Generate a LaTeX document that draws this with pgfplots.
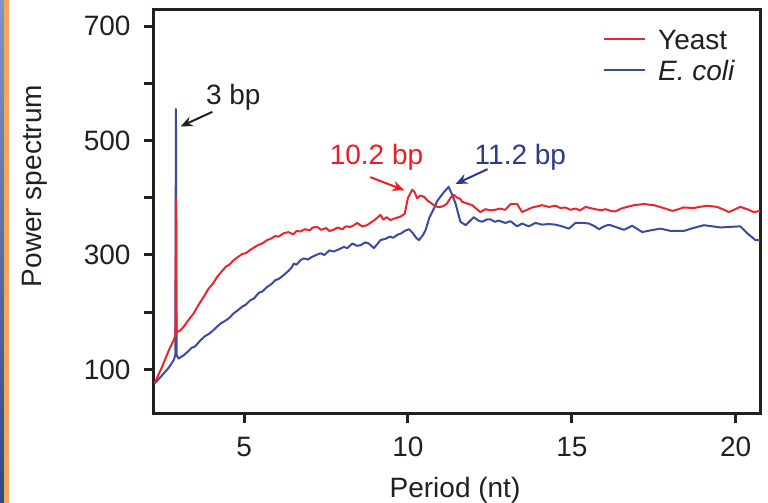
\documentclass[border=0pt]{standalone}
\usepackage{fontspec}
\setmainfont{Liberation Sans}
\usepackage{pgfplots}
\pgfplotsset{compat=1.18}
\usetikzlibrary{arrows.meta,calc}
\definecolor{yred}{HTML}{E8262D}
\definecolor{eblue}{HTML}{3C4A9E}
\definecolor{lred}{HTML}{ED1C24}
\definecolor{lblue}{HTML}{2B3990}
\definecolor{axk}{HTML}{231F20}
\definecolor{stripeA}{HTML}{7E94C4}
\definecolor{stripeB}{HTML}{2C4A8C}
\definecolor{stripeO}{HTML}{F6A65A}
\newcommand{\fs}{\fontsize{14}{16.8}\selectfont}
\begin{document}
\begin{tikzpicture}[font=\fs]
\begin{axis}[
  name=ax,
  scale only axis,
  width=303.15pt, height=201.65pt,
  xmin=2.25, xmax=20.75,
  ymin=23.4, ymax=728,
  xtick={5,10,15,20},
  ytick={100,200,300,400,500,600,700},
  yticklabels={100,,300,,500,,700},
  tick align=outside,
  xtick pos=bottom, ytick pos=left,
  major tick length=5pt,
  axis line style={line width=1.5pt, color=axk},
  every tick/.style={line width=1.5pt, color=axk},
  tick label style={font=\fs, text=axk},
  /pgf/number format/assume math mode=true,
  yticklabel style={xshift=-3.2pt},
  xticklabel style={yshift=-3.5pt},
  xlabel={Period (nt)},
  ylabel={Power spectrum},
  label style={font=\fs, text=axk},
  xlabel style={at={(axis description cs:0.4965,-0.19)}, anchor=center},
  ylabel style={at={(axis description cs:-0.1963,0.5636)}, anchor=center},
  legend style={at={(rel axis cs:0.7393,0.9665)}, anchor=north west,
    draw=none, fill=none, inner sep=0pt, row sep=0pt, font=\fs,
    nodes={text height=10pt, text depth=0pt, inner sep=2.75pt, text=axk},
    /tikz/every odd column/.append style={column sep=3.5pt}},
  legend cell align=left,
  legend image code/.code={\draw[#1] (0pt,0pt) -- (20.5pt,0pt);},
  clip=true,
]
\addplot[eblue, line width=1pt, line join=round, forget plot] coordinates {
(2.26,75) (2.5,90) (2.7,103) (2.85,116) (2.9,125) (2.92,555) (2.94,125)
(3.0,119) (3.08,122) (3.16,125) (3.3,132) (3.4,138) (3.5,140) (3.67,151)
(3.8,158) (3.95,163) (4.05,168) (4.18,175) (4.3,181) (4.4,184) (4.55,190)
(4.68,198) (4.8,203) (4.95,210) (5.05,213) (5.19,221) (5.3,224) (5.45,234)
(5.55,236) (5.7,244) (5.85,250) (5.95,256) (6.05,258) (6.21,265) (6.35,272)
(6.45,278) (6.51,285) (6.6,283) (6.72,291) (6.82,294) (6.95,292) (7.05,296)
(7.2,300) (7.33,303) (7.45,300) (7.6,308) (7.73,306) (7.9,310) (8.04,314)
(8.15,312) (8.3,320) (8.45,316) (8.55,317) (8.7,322) (8.8,320) (8.96,312)
(9.05,318) (9.16,326) (9.3,328) (9.45,332) (9.55,330) (9.67,335) (9.8,338)
(9.9,342) (10.03,345) (10.15,338) (10.25,330) (10.33,326) (10.45,334)
(10.54,344) (10.65,365) (10.79,381) (10.9,395) (10.99,402) (11.1,410)
(11.24,419) (11.35,405) (11.45,390) (11.52,375) (11.6,358) (11.76,352)
(11.9,360) (12.01,366) (12.15,360) (12.26,358) (12.4,362) (12.52,362)
(12.65,358) (12.77,360) (12.97,356) (13.13,359) (13.33,350) (13.48,355)
(13.68,350) (13.89,356) (14.09,353) (14.3,354) (14.5,353) (14.7,350)
(14.91,346) (15.11,356) (15.3,356) (15.52,355) (15.7,350) (15.83,345)
(15.95,349) (16.08,352) (16.18,352) (16.33,349) (16.59,344) (16.84,351)
(17.15,340) (17.4,343) (17.71,346) (18.01,342) (18.42,342) (18.7,347)
(19.03,352) (19.3,350) (19.54,348) (19.8,349) (20.14,350) (20.35,338)
(20.6,326) (20.75,326)
};
\addplot[yred, line width=1pt, line join=round] coordinates {
(2.26,75) (2.5,105) (2.7,133) (2.85,151) (2.905,160) (2.92,400) (2.935,165)
(3.05,168) (3.16,175) (3.3,186) (3.46,198) (3.6,212) (3.77,227) (3.9,240)
(4.05,250) (4.18,262) (4.3,270) (4.45,280) (4.55,283) (4.68,291) (4.8,296)
(4.95,302) (5.05,303) (5.19,309) (5.3,313) (5.45,318) (5.55,320) (5.7,326)
(5.8,328) (5.95,333) (6.05,332) (6.21,338) (6.35,340) (6.5,336) (6.6,342)
(6.72,341) (6.85,345) (7.0,343) (7.1,348) (7.23,349) (7.35,344) (7.5,347)
(7.6,342) (7.73,344) (7.85,348) (8.0,345) (8.1,350) (8.24,349) (8.35,352)
(8.45,356) (8.6,350) (8.75,352) (8.9,358) (9.0,362) (9.16,370) (9.25,362)
(9.35,366) (9.46,361) (9.6,364) (9.77,367) (9.9,372) (10.0,400) (10.13,414)
(10.2,410) (10.28,399) (10.38,404) (10.48,402) (10.6,395) (10.79,387)
(10.9,384) (10.99,384) (11.1,386) (11.19,390) (11.3,400) (11.4,405)
(11.5,400) (11.6,398) (11.65,393) (11.8,390) (11.96,387) (12.1,380)
(12.21,375) (12.37,380) (12.5,378) (12.67,379) (12.8,381) (12.97,379)
(13.13,389) (13.33,389) (13.48,375) (13.6,378) (13.79,383) (13.95,385)
(14.09,387) (14.3,384) (14.5,386) (14.65,382) (14.8,383) (14.95,379)
(15.11,381) (15.25,378) (15.42,384) (15.55,382) (15.72,380) (15.9,378)
(16.03,380) (16.18,377) (16.33,376) (16.5,381) (16.69,384) (16.9,387)
(17.19,389) (17.5,387) (17.8,382) (18.06,377) (18.2,379) (18.41,383)
(18.72,382) (18.9,384) (19.13,386) (19.43,384) (19.6,380) (19.79,375)
(19.95,379) (20.14,384) (20.35,380) (20.55,375) (20.75,377)
};
\addlegendentry{Yeast}
\addlegendimage{eblue, line width=1pt}
\addlegendentry{\textit{E. coli}}
\node[text=axk, font=\fs] at (axis cs:4.67,576) {3 bp};
\draw[axk, line width=1pt, -{Stealth[length=6pt,width=5pt]}] (axis cs:4.03,550) -- (axis cs:3.06,524.5);
\node[text=lred, font=\fs] at (axis cs:9.04,471) {10.2 bp};
\draw[lred, line width=1pt, -{Stealth[length=6pt,width=5pt]}] (axis cs:8.85,436) -- (axis cs:9.89,413);
\node[text=lblue, font=\fs] at (axis cs:13.43,471) {11.2 bp};
\draw[lblue, line width=1pt, -{Stealth[length=6pt,width=5pt]}] (axis cs:12.43,450) -- (axis cs:11.45,424);
\end{axis}
\pgfresetboundingbox
\path (ax.south west) ++(-77pt,-44.85pt) coordinate (bl) rectangle ++(384pt,251.5pt);
\shade[top color=stripeA, bottom color=stripeB] (bl) rectangle ++(2pt,251.5pt);
\fill[stripeO] ($(bl)+(2pt,0)$) rectangle ++(2.5pt,251.5pt);
\end{tikzpicture}
\end{document}
